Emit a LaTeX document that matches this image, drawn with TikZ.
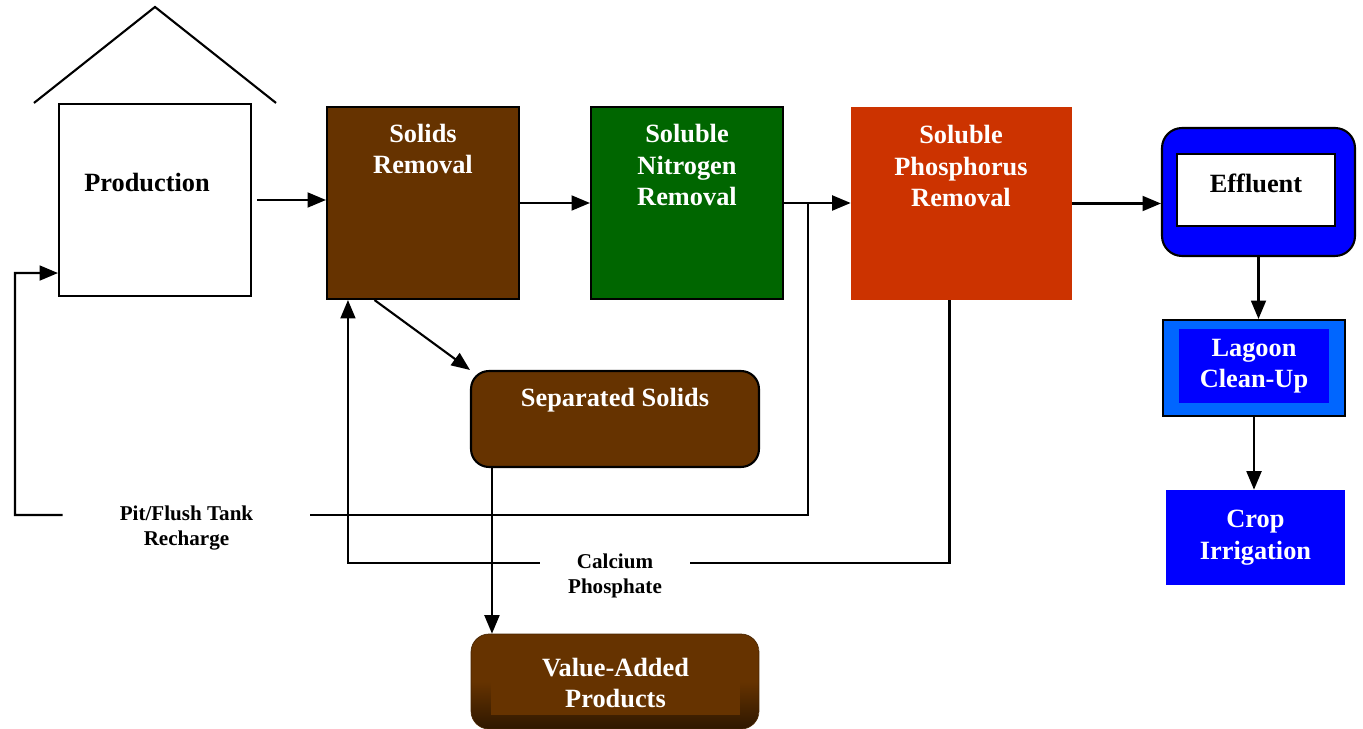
\documentclass[tikz,border=0pt]{standalone}
\usepackage{fontspec}
\setmainfont{Liberation Serif}
\usetikzlibrary{arrows.meta,calc}
\definecolor{brn}{HTML}{663300}
\definecolor{brndk}{HTML}{2E1700}
\definecolor{grn}{HTML}{006600}
\definecolor{org}{HTML}{CC3300}
\definecolor{blu}{HTML}{0000FF}
\definecolor{lblu}{HTML}{0066FF}
\tikzset{
 blk/.style={draw, line width=1.2pt, inner sep=0pt},
 big/.style={font=\bfseries\fontsize{15}{18}\selectfont, align=center},
 small/.style={font=\bfseries\fontsize{12}{14}\selectfont, align=center, inner sep=0pt},
 arr/.style={line width=1.2pt, -{Triangle[length=10.5pt,width=8.5pt]}},
 ln/.style={line width=1.2pt}
}

\begin{document}
\begin{tikzpicture}[x=0.02cm, y=-0.02cm]
\useasboundingbox (0,0) rectangle (1363,729);
\coordinate (Cprod) at (155,200);
\coordinate (Csr) at (423,203);
\coordinate (Csnr) at (687,203);
\coordinate (Cspr) at (961.5,203.5);
\coordinate (Ceff) at (1258.5,192);
\coordinate (Clag) at (1254,368);
\coordinate (Ccrop) at (1255.5,537.5);
\coordinate (Css) at (615,419);
\coordinate (Cva) at (615,681.5);
\coordinate (pfL) at (15,515);

\node[blk, minimum width=3.84cm, minimum height=3.84cm] (prod) at (Cprod) {};
\node[big] (prodtxt) at (147,183) {Production};
\draw[ln] ($(prod.north west)+(-24,0)$) -- ($(prod.north)+(0,-96)$) -- ($(prod.north east)+(24,0)$);

\node[blk, fill=brn, minimum width=3.84cm, minimum height=3.84cm] (sr) at (Csr) {};
\node[big, text=white] (srtxt) at (423,149) {Solids\\Removal};
\node[blk, fill=grn, minimum width=3.84cm, minimum height=3.84cm] (snr) at (Csnr) {};
\node[big, text=white] (snrtxt) at (687,165) {Soluble\\Nitrogen\\Removal};
\node[fill=org, inner sep=0pt, minimum width=4.42cm, minimum height=3.86cm] (spr) at (Cspr) {};
\node[big, text=white] (sprtxt) at (961,166) {Soluble\\Phosphorus\\Removal};

\node[blk, fill=blu, rounded corners=0.4cm, minimum width=3.86cm, minimum height=2.56cm] (eff) at (Ceff) {};
\node[blk, fill=white, minimum width=3.16cm, minimum height=1.44cm] (effin) at (1256,190) {};
\node[big] (efftxt) at (1256,183) {Effluent};
\node[blk, fill=lblu, minimum width=3.64cm, minimum height=1.92cm] (lag) at (Clag) {};
\node[fill=blu, inner sep=0pt, minimum width=3cm, minimum height=1.48cm, big, text=white] (lagin) at (1254,366) {Lagoon\\Clean-Up};
\node[fill=blu, inner sep=0pt, minimum width=3.58cm, minimum height=1.9cm, big, text=white] (crop) at (Ccrop) {Crop\\Irrigation};

\node[blk, fill=brn, rounded corners=0.36cm, minimum width=5.76cm, minimum height=1.92cm] (ss) at (Css) {};
\node[big, text=white] (sstxt) at (615,400) {Separated Solids};
\node[draw=brn!70!black, thin, rounded corners=0.36cm, top color=brn, bottom color=brndk, middle color=brn, inner sep=0pt, minimum width=5.76cm, minimum height=1.9cm] (va) at (Cva) {};
\node[fill=brn, inner sep=0pt, minimum width=4.98cm, minimum height=1.3cm, big, text=white] (vain) at (615.5,683) {Value-Added\\Products};

\node[small, minimum width=4.94cm] (pf) at (186.5,528) {Pit/Flush Tank\\Recharge};
\node[small, minimum width=3cm] (cp) at (615,576) {Calcium\\Phosphate};

\draw[arr] ([xshift=0.1cm]prod.east) -- (prod.east -| sr.west);
\draw[arr] (sr.east) -- (snr.west);
\draw[arr] (snr.east) -- (spr.west |- snr.east);
\draw[arr] (spr.east) -- (spr.east -| eff.west);
\draw[arr] (eff.south) -- (eff.south |- lag.north);
\draw[arr] (lag.south) -- (lag.south |- crop.north);
\draw[arr] ($(sr.south west)!0.25!(sr.south east)$) -- (ss.north west);
\coordinate (ssout) at ($(ss.south west)+(22,0)$);
\draw[arr] (ssout) -- (ssout |- va.north);

\coordinate (pj) at ($(snr.east)+(24,0)$);
\draw[ln] (pj) |- ([yshift=0.26cm]pf.east);
\draw[arr] ([yshift=0.26cm]pf.west) -- (pfL) |- ($(prod.south west)+(0,-24)$);
\coordinate (cpj) at ($(spr.south)+(-12,0)$);
\draw[ln] (cpj) |- ([yshift=0.26cm]cp.east);
\draw[arr] ([yshift=0.26cm]cp.west) -| ($(sr.south west)+(22,0)$);

\end{tikzpicture}
\end{document}
